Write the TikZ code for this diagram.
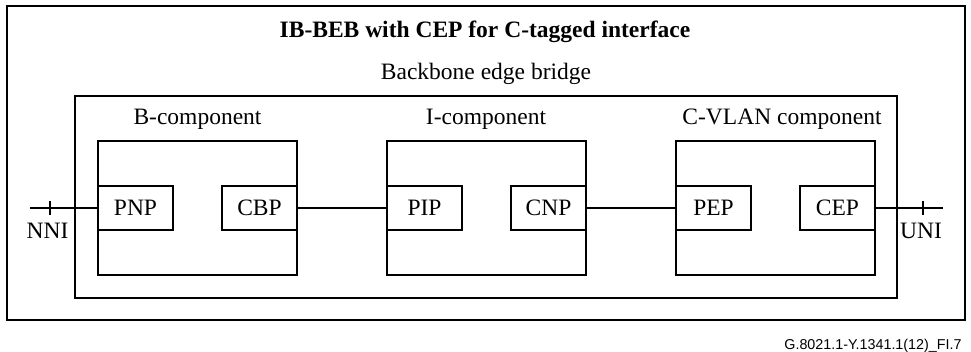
\documentclass[tikz,border=0pt]{standalone}
\usepackage{fontspec}
\setmainfont{Liberation Serif}
\newfontfamily\capfont{Liberation Sans}
\begin{document}
\begin{tikzpicture}[x=1pt,y=-1pt,line width=1.1pt,
  txt/.style={font=\fontsize{23.5}{28}\selectfont,inner sep=0pt,anchor=base},
  comp/.style={draw,minimum width=199pt,minimum height=134pt,inner sep=0pt},
  port/.style={draw,minimum width=75pt,minimum height=44pt,inner sep=0pt,font=\fontsize{23.5}{28}\selectfont}]
\useasboundingbox (0,0) rectangle (971,351);
\draw (7,6) rectangle (965,320);
\draw (75,96) rectangle (897,298);
\node[txt,font=\fontsize{23.5}{28}\selectfont\bfseries] (title) at (485,37) {IB-BEB with CEP for C-tagged interface};
\node[txt] (beb) at (486,79) {Backbone edge bridge};
\node[comp] (bc) at (197.5,208) {};
\node[comp] (ic) at (486.5,208) {};
\node[comp] (cc) at (775.5,208) {};
\node[txt] (bcl) at (197.5,124) {B-component};
\node[txt] (icl) at (486,124) {I-component};
\node[txt] (ccl) at (782,124) {C-VLAN component};
\node[port,anchor=west] (pnp) at (bc.west) {PNP};
\node[port,anchor=east] (cbp) at (bc.east) {CBP};
\node[port,anchor=west] (pip) at (ic.west) {PIP};
\node[port,anchor=east] (cnp) at (ic.east) {CNP};
\node[port,anchor=west] (pep) at (cc.west) {PEP};
\node[port,anchor=east] (cep) at (cc.east) {CEP};
\coordinate (nni) at (30,208);
\coordinate (uni) at (943,208);
\coordinate (t1a) at (50,201); \coordinate (t1b) at (50,215);
\coordinate (t2a) at (923,201); \coordinate (t2b) at (923,215);
\draw (nni) -- (pnp.west);
\draw (cbp.east) -- (pip.west);
\draw (cnp.east) -- (pep.west);
\draw (cep.east) -- (uni);
\draw (t1a) -- (t1b);
\draw (t2a) -- (t2b);
\node[txt] (nnil) at (47.5,238) {NNI};
\node[txt] (unil) at (921,238) {UNI};
\node[inner sep=0pt,anchor=base east,font=\capfont\fontsize{14.3}{17}\selectfont] (cap) at (962,349) {G.8021.1-Y.1341.1(12)\_FI.7};
\end{tikzpicture}
\end{document}
